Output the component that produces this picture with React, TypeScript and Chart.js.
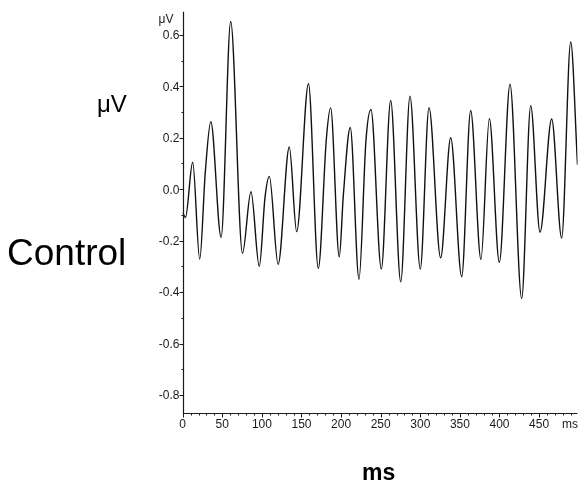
import React, { useEffect, useRef } from "react";
import { Chart, registerables } from "chart.js";

Chart.register(...registerables);

// Waveform key points (time in ms, amplitude in µV)
const timesMs = [
  0, 3.5, 12.6, 21.5, 28.5, 35.5, 48.5, 60.6, 75.5, 86.2, 96.7, 104, 109.4, 120.5,
  134.6, 143.9, 158.8, 171.2, 181.5, 186.8, 197.7, 202.8, 211.6, 222.6, 231.4,
  237.7, 250.8, 262.6, 275.3, 287, 300, 311, 325.7, 338.4, 352.3, 363.6, 376.6,
  387.2, 399.8, 413.3, 428, 439.4, 451.2, 465.9, 478.5, 489.9, 498.5,
];
const amplitudeUv = [
  -0.09, -0.11, 0.105, -0.272, 0.065, 0.262, -0.187, 0.652, -0.249, -0.01, -0.3,
  -0.03, 0.05, -0.292, 0.164, -0.165, 0.41, -0.307, 0.2, 0.316, -0.263, -0.025,
  0.24, -0.35, 0.19, 0.31, -0.31, 0.345, -0.36, 0.362, -0.31, 0.317, -0.267, 0.2,
  -0.34, 0.306, -0.273, 0.274, -0.284, 0.408, -0.425, 0.325, -0.167, 0.273, -0.19,
  0.572, 0.095,
];

const xMajorTicks = [0, 50, 100, 150, 200, 250, 300, 350, 400, 450];
const xTickLabels = ["0", "50", "100", "150", "200", "250", "300", "350", "400", "450"];
const xMinorTicks = [
  10, 20, 30, 40, 60, 70, 80, 90, 110, 120, 130, 140, 160, 170, 180, 190, 210, 220,
  230, 240, 260, 270, 280, 290, 310, 320, 330, 340, 360, 370, 380, 390, 410, 420,
  430, 440, 460, 470, 480, 490,
];
const yMajorTicks = [-0.8, -0.6, -0.4, -0.2, 0, 0.2, 0.4, 0.6];
const yTickLabels = ["-0.8", "-0.6", "-0.4", "-0.2", "0.0", "0.2", "0.4", "0.6"];
const yMinorTicks = [-0.7, -0.5, -0.3, -0.1, 0.1, 0.3, 0.5];

const xMin = 0;
const xMax = 498.5;
const yMin = -0.871;
const yMax = 0.69;

const FONT = "Arial, 'Liberation Sans', sans-serif";

const axesPlugin = {
  id: "customAxes",
  afterDraw(chart: any) {
    const ctx = chart.ctx as CanvasRenderingContext2D;
    const xs = chart.scales.x;
    const ys = chart.scales.y;
    const { left, right, top, bottom } = chart.chartArea;
    ctx.save();
    ctx.strokeStyle = "#1a1a1a";
    ctx.fillStyle = "#1a1a1a";
    ctx.lineWidth = 1.2;
    const ax = Math.round(left) + 0.5;
    const ay = Math.round(bottom) + 0.5;
    ctx.beginPath();
    ctx.moveTo(ax, top);
    ctx.lineTo(ax, ay);
    ctx.lineTo(right, ay);
    ctx.stroke();

    ctx.lineWidth = 1;
    ctx.beginPath();
    yMajorTicks.forEach((v) => {
      const py = Math.round(ys.getPixelForValue(v)) + 0.5;
      ctx.moveTo(ax - 4, py);
      ctx.lineTo(ax, py);
    });
    yMinorTicks.forEach((v) => {
      const py = Math.round(ys.getPixelForValue(v)) + 0.5;
      ctx.moveTo(ax - 2, py);
      ctx.lineTo(ax, py);
    });
    xMajorTicks.forEach((v) => {
      const px = Math.round(xs.getPixelForValue(v)) + 0.5;
      ctx.moveTo(px, ay);
      ctx.lineTo(px, ay + 4);
    });
    xMinorTicks.forEach((v) => {
      const px = Math.round(xs.getPixelForValue(v)) + 0.5;
      ctx.moveTo(px, ay);
      ctx.lineTo(px, ay + 2);
    });
    ctx.stroke();

    ctx.font = `12px ${FONT}`;
    ctx.textAlign = "right";
    ctx.textBaseline = "middle";
    yMajorTicks.forEach((v, i) => {
      ctx.fillText(yTickLabels[i], ax - 4, ys.getPixelForValue(v) + 1);
    });
    ctx.textAlign = "center";
    ctx.textBaseline = "top";
    xMajorTicks.forEach((v, i) => {
      ctx.fillText(xTickLabels[i], xs.getPixelForValue(v), ay + 5);
    });
    ctx.fillText("ms", 570, ay + 5);
    ctx.textBaseline = "middle";
    ctx.fillText("\u03bcV", 166, 20);
    ctx.restore();
  },
};

export default function App() {
  const canvasRef = useRef<HTMLCanvasElement | null>(null);

  useEffect(() => {
    const canvas = canvasRef.current;
    if (!canvas) return;
    const chart = new Chart(canvas, {
      type: "line",
      data: {
        datasets: [
          {
            data: timesMs.map((t, i) => ({ x: t, y: amplitudeUv[i] })),
            borderColor: "#111111",
            borderWidth: 1.4,
            pointRadius: 0,
            cubicInterpolationMode: "monotone",
            fill: false,
          },
        ],
      },
      options: {
        animation: false,
        responsive: false,
        maintainAspectRatio: false,
        events: [],
        layout: { padding: { left: 182.7, right: 6.5, top: 11.7, bottom: 72.7 } },
        plugins: { legend: { display: false }, tooltip: { enabled: false }, title: { display: false } },
        scales: {
          x: { type: "linear", display: false, min: xMin, max: xMax },
          y: { type: "linear", display: false, min: yMin, max: yMax },
        },
      },
      plugins: [axesPlugin],
    });
    return () => chart.destroy();
  }, []);

  const labelBase: React.CSSProperties = {
    position: "absolute",
    fontFamily: FONT,
    color: "#000",
    lineHeight: 1,
    whiteSpace: "nowrap",
  };

  return (
    <div style={{ position: "fixed", left: 0, top: 0, width: 584, height: 486, background: "#fff" }}>
      <canvas ref={canvasRef} width={584} height={486} style={{ position: "absolute", left: 0, top: 0, width: 584, height: 486 }} />
      <div style={{ ...labelBase, left: 97, top: 92, fontSize: 24, lineHeight: "24px" }}>μV</div>
      <div style={{ ...labelBase, left: 7, top: 234, fontSize: 37, lineHeight: "37px" }}>Control</div>
      <div style={{ ...labelBase, left: 362, top: 460.5, fontSize: 23, lineHeight: "23px", fontWeight: "bold" }}>ms</div>
    </div>
  );
}
